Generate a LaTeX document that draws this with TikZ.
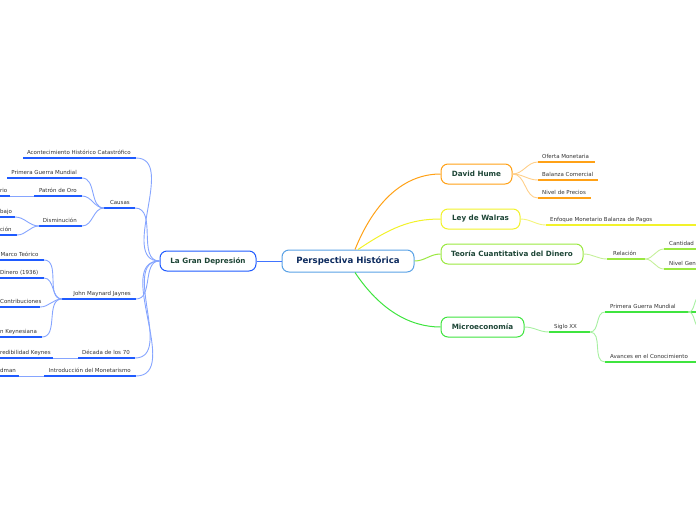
\documentclass[tikz,border=0pt]{standalone}
\usepackage{fontspec}
\setmainfont{DejaVu Sans}
\definecolor{ulblue}{HTML}{1F5BFF}
\definecolor{lnblue}{HTML}{86A5FF}
\definecolor{hubline}{HTML}{5AA2E6}
\definecolor{hubtext}{HTML}{0D2B5E}
\definecolor{boxtext}{HTML}{1D4536}
\definecolor{leaftext}{HTML}{333333}
\definecolor{orgA}{HTML}{FFA116}
\definecolor{orgL}{HTML}{FFCF8A}
\definecolor{yelA}{HTML}{F2F22A}
\definecolor{yelL}{HTML}{F4F47A}
\definecolor{limA}{HTML}{9AE840}
\definecolor{limL}{HTML}{C6F09A}
\definecolor{grnA}{HTML}{3FE43F}
\definecolor{grnL}{HTML}{A6F0A0}
\tikzset{
  leaf/.style={font=\fontsize{5.5}{6.5}\selectfont, text=leaftext, inner sep=0pt},
  ulstyle/.style={line width=1.6pt, draw=#1},
  lnk/.style={line width=0.9pt, draw=#1},
  topic/.style={draw=#1, line width=1pt, rounded corners=7pt, fill=white, minimum height=20pt,
     font=\fontsize{7.2}{8}\selectfont\bfseries, text=boxtext, inner sep=0pt},
  hub/.style={draw=hubline, line width=1pt, rounded corners=7pt, fill=white, minimum height=22pt,
     minimum width=132pt, font=\fontsize{8.6}{10}\selectfont\bfseries, text=hubtext, inner sep=0pt}
}
% name, x1, x2, y, text, colour  (text at right end: left side)
\newcommand{\leftleaf}[6]{%
  \coordinate (#1-l) at (#2,#4); \coordinate (#1-r) at (#3,#4);
  \draw[ulstyle=#6] (#1-l) -- (#1-r);
  \node[leaf, anchor=base east] (#1) at (#3-5,#4-3.5) {#5};}
% text at left end: right side or cut at left border
\newcommand{\rightleaf}[7]{%
  \coordinate (#1-l) at (#2,#4); \coordinate (#1-r) at (#3,#4);
  \draw[ulstyle=#6] (#1-l) -- (#1-r);
  \node[leaf, anchor=base west] (#1) at (#2+#7,#4-3.5) {#5};}
\begin{document}
\begin{tikzpicture}[x=1pt,y=-1pt]
\path[use as bounding box] (0,0) rectangle (696,520);
\clip (0,0) rectangle (696,520);

% ---------- centre ----------
\node[hub] (ph) at (348,261) {Perspectiva Histórica};
\node[topic=ulblue, minimum width=96pt] (lgd) at (208,261) {La Gran Depresión};
\draw[lnk=ulblue!85, line width=1pt] (lgd.east) -- (ph.west);

% ---------- left: La Gran Depresión ----------
\leftleaf{aco}{23}{136}{158}{Acontecimiento Histórico Catastrófico}{ulblue}
\leftleaf{cau}{104}{135}{208}{Causas}{ulblue}
\leftleaf{jmj}{62}{136}{299}{John Maynard Jaynes}{ulblue}
\leftleaf{dec}{78}{135}{358}{Década de los 70}{ulblue}
\leftleaf{intro}{44}{136}{376}{Introducción del Monetarismo}{ulblue}
\foreach \n in {aco,cau,jmj,dec,intro}
  \draw[lnk=lnblue] (\n-r) to[out=0,in=180] (lgd.west);

\leftleaf{pgm}{7}{82}{178}{Primera Guerra Mundial}{ulblue}
\leftleaf{pat}{34}{82}{196}{Patrón de Oro}{ulblue}
\leftleaf{dis}{39}{82}{226}{Disminución}{ulblue}
\foreach \n in {pgm,pat,dis}
  \draw[lnk=lnblue] (\n-r) to[out=0,in=180] (cau-l);

\rightleaf{rio}{0}{10}{196}{rio}{ulblue}{0}
\draw[lnk=lnblue] (rio-r) -- (pat-l);
\rightleaf{baj}{0}{15}{217}{bajo}{ulblue}{0}
\rightleaf{cion}{0}{17}{235}{ción}{ulblue}{0}
\foreach \n in {baj,cion}
  \draw[lnk=lnblue] (\n-r) to[out=0,in=180] (dis-l);

\rightleaf{mar}{0}{44}{260}{Marco Teórico}{ulblue}{0.5}
\rightleaf{din}{0}{44}{278}{Dinero (1936)}{ulblue}{0}
\rightleaf{con}{0}{40}{307}{Contribuciones}{ulblue}{0}
\rightleaf{rev}{0}{42}{337}{n Keynesiana}{ulblue}{0}
\foreach \n in {mar,din,con,rev}
  \draw[lnk=lnblue] (\n-r) to[out=0,in=180] (jmj-l);

\rightleaf{cre}{0}{53}{358}{redibilidad Keynes}{ulblue}{0}
\draw[lnk=lnblue] (cre-r) -- (dec-l);
\rightleaf{fri}{0}{19}{376}{dman}{ulblue}{0}
\draw[lnk=lnblue] (fri-r) -- (intro-l);

% ---------- right: topics ----------
\node[topic=orgA, minimum width=71pt] (dh) at (476.5,174) {David Hume};
\node[topic=yelA, minimum width=79pt] (lw) at (480.5,219) {Ley de Walras};
\node[topic=limA, minimum width=142pt] (tc) at (512,254) {Teoría Cuantitativa del Dinero};
\node[topic=grnA, minimum width=83pt] (mic) at (482.5,327) {Microeconomía};

\coordinate (phA) at (355,249.5);
\coordinate (phB) at (358,249.5);
\coordinate (phC) at (355,272.5);
\draw[lnk=orgA, line width=1pt] (phA) .. controls (375,200) and (405,174) .. (dh.west);
\draw[lnk=yelA, line width=1pt] (phB) .. controls (390,228) and (410,219) .. (lw.west);
\draw[lnk=limA, line width=1pt] (ph.east) to[out=0,in=180] (tc.west);
\draw[lnk=grnA, line width=1pt] (phC) .. controls (380,310) and (410,327) .. (mic.west);

% David Hume
\rightleaf{om}{538}{595}{162}{Oferta Monetaria}{orgA}{4}
\rightleaf{bc}{538}{598}{180}{Balanza Comercial}{orgA}{4}
\rightleaf{np}{538}{591}{198}{Nivel de Precios}{orgA}{4}
\foreach \n in {om,bc,np}
  \draw[lnk=orgL] (dh.east) to[out=0,in=180] (\n-l);

% Ley de Walras
\rightleaf{emb}{546}{700}{225}{Enfoque Monetario Balanza de Pagos}{yelA}{4}
\draw[lnk=yelL] (lw.east) to[out=0,in=180] (emb-l);

% Teoría Cuantitativa
\rightleaf{rel}{607}{645}{259}{Relación}{limA}{6}
\draw[lnk=limL] (tc.east) to[out=0,in=180] (rel-l);
\rightleaf{cant}{664}{700}{249}{Cantidad}{limA}{5}
\rightleaf{ngen}{664}{700}{269}{Nivel Gen}{limA}{5}
\foreach \n in {cant,ngen}
  \draw[lnk=limL] (rel-r) to[out=0,in=180] (\n-l);

% Microeconomía
\rightleaf{sig}{549}{590}{332}{Siglo XX}{grnA}{5}
\draw[lnk=grnL] (mic.east) to[out=0,in=180] (sig-l);
\rightleaf{pgm2}{605}{696}{312}{Primera Guerra Mundial}{grnA}{5}
\rightleaf{ava}{605}{696}{362}{Avances en el Conocimiento}{grnA}{5}
\foreach \n in {pgm2,ava}
  \draw[lnk=grnL] (sig-r) to[out=0,in=180] (\n-l);
\coordinate (pgmj) at (688,312);
\coordinate (offA) at (700,296);
\coordinate (offB) at (700,328);
\draw[lnk=grnL] (pgmj) to[out=0,in=200] (offA);
\draw[lnk=grnL] (pgmj) to[out=0,in=160] (offB);
\end{tikzpicture}
\end{document}
